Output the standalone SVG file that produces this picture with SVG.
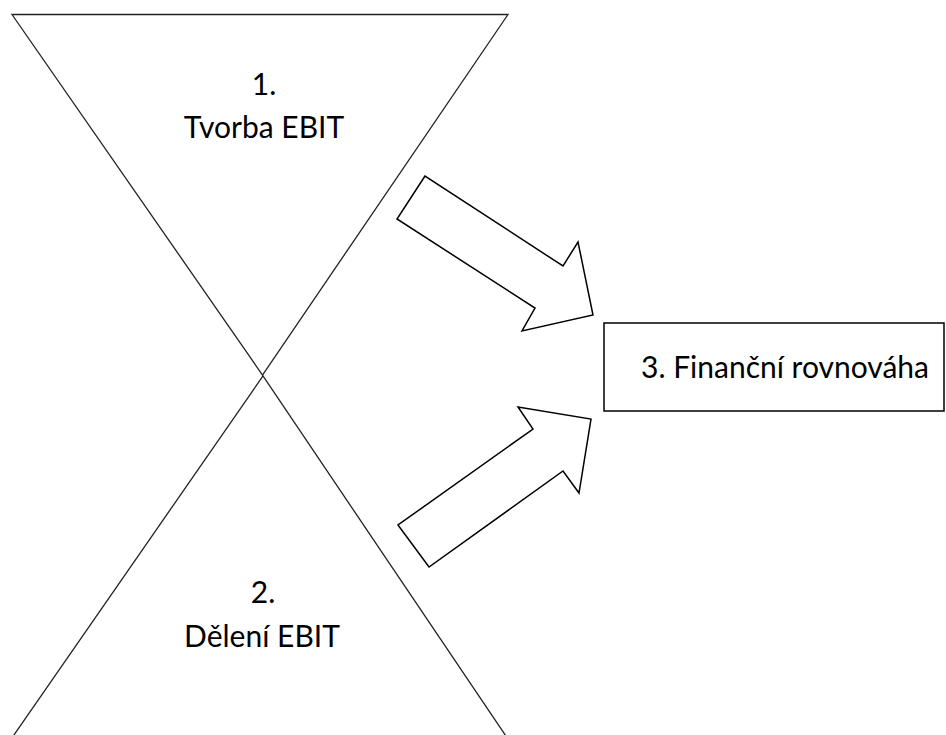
<svg xmlns="http://www.w3.org/2000/svg" width="946" height="735" viewBox="0 0 946 735">
<style>
.shape{fill:#fff;stroke:#000;stroke-width:1.5;stroke-linejoin:miter}
.line{fill:none;stroke:#222;stroke-width:1.3}
.lbl{font-family:Lato,"Open Sans",sans-serif;font-size:30px;fill:#000;text-anchor:middle}
</style>
<rect width="946" height="735" fill="#fff"/>
<g id="top-triangle">
<polygon class="line" points="12,14.5 508,14.5 262.5,375"/>
<text class="lbl" x="264" y="95">1.</text>
<text class="lbl" x="264" y="138">Tvorba EBIT</text>
</g>
<g id="bottom-triangle">
<polyline class="line" points="7,745 263,376 512,745"/>
<text class="lbl" x="263" y="603">2.</text>
<text class="lbl" x="262" y="647">Dělení EBIT</text>
</g>
<g id="box">
<rect class="shape" x="604" y="323" width="340" height="88"/>
<text class="lbl" x="785" y="378">3. Finanční rovnováha</text>
</g>
<g id="connectors">
<polygon class="shape" points="425,176 397,219 535,308 522,331 593,315 578,242 563,266"/>
<polygon class="shape" points="398,525 429,567 563,471 579,493 591,419 518,407 533,429"/>
</g>
</svg>
